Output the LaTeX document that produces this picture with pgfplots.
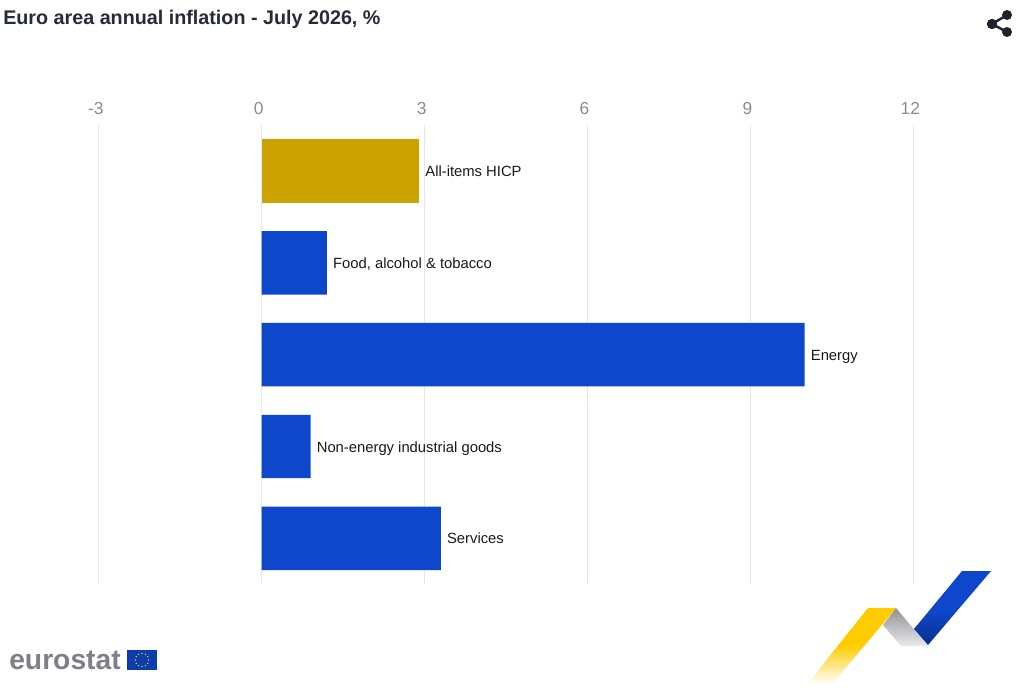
\documentclass[border=0pt]{standalone}
\usepackage{pgfplots}
\pgfplotsset{compat=1.18}
\usepackage{fontspec}
\setmainfont{Liberation Sans}
\definecolor{gold}{HTML}{CCA300}
\definecolor{eublue}{HTML}{0E47CB}
\definecolor{gridc}{HTML}{E2E6F1}
\definecolor{titlec}{HTML}{262B38}
\definecolor{tickc}{HTML}{8C8C8C}
\definecolor{logog}{HTML}{7E7F87}
\begin{document}
\begin{tikzpicture}
\path[use as bounding box,fill=white] (0pt,0pt) rectangle (768pt,-518.25pt);
\begin{axis}[
  at={(74.1pt,-438.2pt)},anchor=south west,
  scale only axis,
  width=610.8pt,height=344.4pt,
  xmin=-3,xmax=12,
  ymin=-0.5,ymax=4.5,
  y dir=reverse,
  axis line style={draw=none},
  xtick={-3,0,3,6,9,12},
  xticklabel pos=top,
  ytick=\empty,
  major tick length=0pt,
  xmajorgrids,
  grid style={gridc,line width=0.75pt},
  xticklabel style={text=tickc,font=\fontsize{13}{15}\selectfont,xshift=-2.2pt,yshift=4.3pt},
  /pgf/number format/assume math mode=true,
  clip=false,
  xbar,
  bar width=47.6pt,
  bar shift=0pt,
  point meta=explicit symbolic,
  nodes near coords,
  every node near coord/.append style={text=black!90,font=\fontsize{11.1}{13}\selectfont,inner sep=0pt,xshift=4.5pt,yshift=-1.2pt,anchor=west,text height=8.2pt,text depth=2.3pt},
]
\addplot[draw=none,fill=gold] coordinates {(2.9,0) [All-items HICP]};
\addplot[draw=none,fill=eublue] coordinates {
  (1.2,1) [{Food, alcohol \& tobacco}]
  (10.0,2) [Energy]
  (0.9,3) [Non-energy industrial goods]
  (3.3,4) [Services]
};
\end{axis}
\begin{scope}[x=0.75pt,y=-0.75pt]
\node[anchor=base west,inner sep=0pt,text=titlec,font=\bfseries\fontsize{14.8}{16}\selectfont] at (3,25) {Euro area annual inflation - July 2026, \%};
% share icon
\draw[titlec!80!black,line width=1.8pt] (1007,15) -- (992,24) -- (1007,32);
\fill[titlec!80!black] (1007,15) circle (5) (992,24) circle (5.2) (1007,32) circle (5);
% logo ribbon
\begin{scope}
\clip (868,608) -- (896,608) -- (833,683) -- (808,683) -- cycle;
\fill[color={rgb,255:red,255;green,204;blue,0}] (800,600) rectangle (900,645);
\shade[top color={rgb,255:red,255;green,204;blue,0},bottom color=white] (800,645) rectangle (900,684);
\end{scope}
\begin{scope}
\clip (896,608) -- (928,646) -- (901,646) -- (883,625) -- cycle;
\shade[top color={rgb,255:red,140;green,140;blue,145},bottom color={rgb,255:red,235;green,235;blue,240}] (880,606) rectangle (930,647);
\end{scope}
\begin{scope}
\clip (962,571) -- (991,571) -- (928,645) -- (914,629) -- cycle;
\fill[eublue] (910,570) rectangle (995,610);
\shade[top color=eublue,bottom color={rgb,255:red,8;green,46;blue,140}] (910,610) rectangle (995,646);
\end{scope}
% eurostat
\node[anchor=base west,inner sep=0pt,text=logog,font=\bfseries\fontsize{21.2}{24}\selectfont] at (9,669) {eurostat};
\fill[eublue!85!black] (127,650) rectangle (157,670);
\foreach \a in {0,30,...,330}{\fill[yellow!80!orange] ({142+6.6*cos(\a)},{660+6.6*sin(\a)}) circle (0.75);}
\end{scope}
\end{tikzpicture}
\end{document}
